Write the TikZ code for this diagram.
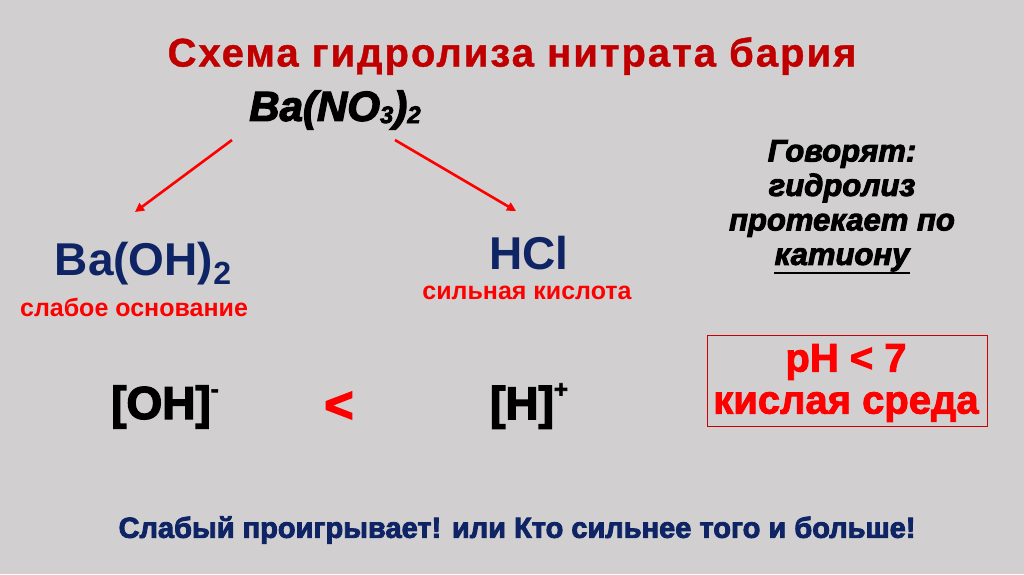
\documentclass[tikz,border=0pt]{standalone}
\usepackage{fontspec}
\setmainfont{Liberation Sans}
\newfontfamily\heavy[FakeBold=2.2]{Liberation Sans Bold}
\newfontfamily\heavier[FakeBold=3]{Liberation Sans Bold}
\newfontfamily\heavyit[FakeBold=3]{Liberation Sans Bold Italic}
\newfontfamily\titlefont[LetterSpace=5,FakeBold=1]{Liberation Sans Bold}
\usetikzlibrary{arrows.meta}
\definecolor{bg}{RGB}{209,207,208}
\definecolor{titlered}{RGB}{192,0,0}
\definecolor{navy}{RGB}{14,36,100}
\definecolor{brightred}{RGB}{255,0,0}
\begin{document}
\begin{tikzpicture}[x=1pt,y=-1pt,
  every node/.style={inner sep=0pt, outer sep=2pt, anchor=center},
  redarrow/.style={draw=brightred, line width=2.6pt, -{Triangle[length=9pt,width=9pt]}},
  navylbl/.style={text=navy, font=\fontsize{46}{50}\bfseries},
  redlbl/.style={text=brightred, font=\fontsize{25}{28}\bfseries},
  blackit/.style={text=black, font=\fontsize{30}{34}\heavyit},
  ion/.style={text=black, font=\fontsize{46}{48}\heavier}]
\fill[bg] (0,0) rectangle (1024,574);
\useasboundingbox (0,0) rectangle (1024,574);
\node[text=titlered, font=\fontsize{40}{44}\titlefont] (title) at (512,56) {Схема гидролиза нитрата бария};
\node[text=black, font=\fontsize{42}{46}\heavyit] (salt) at (335,110) {Ba(NO\raisebox{-0.1ex}{\fontsize{24}{26}\selectfont 3})\raisebox{-0.1ex}{\fontsize{24}{26}\selectfont 2}};
\coordinate (l0) at (232,140);
\coordinate (l1) at (135,212);
\coordinate (r0) at (395,140);
\coordinate (r1) at (516,211);
\draw[redarrow] (l0) -- (l1);
\draw[redarrow] (r0) -- (r1);
\node[navylbl] (base) at (143,264) {Ba(OH)\raisebox{-0.35ex}{\fontsize{32}{34}\selectfont 2}};
\node[redlbl] (baselbl) at (134,307) {слабое основание};
\node[navylbl] (acid) at (529,253) {HCl};
\node[redlbl] (acidlbl) at (527,293) {сильная кислота};
\node[blackit, align=center, font=\fontsize{31}{34.5}\heavyit] (says) at (842,206) {Говорят:\\гидролиз\\протекает по\\\rule[-7pt]{0pt}{0pt}катиону};
\draw[black, line width=1.8pt] (774,273) -- (910,273);
\node[draw=brightred!80!black, line width=0.8pt, minimum width=280pt, minimum height=91pt] (box) at (847,381) {};
\node[text=brightred, font=\fontsize{40}{42}\heavy, align=center] (ph) at (846,383) {pH < 7\\кислая среда};
\node[ion] (oh) at (165,407) {[OH]\raisebox{0.9ex}{\fontsize{24}{26}\selectfont -}};
\node[text=brightred, font=\fontsize{50}{52}\heavier] (lt) at (339,407) {<};
\node[ion] (h) at (529,406) {[H]\raisebox{0.9ex}{\fontsize{24}{26}\selectfont +}};
\node[text=navy, font=\fontsize{29}{32}\heavier] (motto) at (517,530) {Слабый проигрывает! или Кто сильнее того и больше!};
\end{tikzpicture}
\end{document}
